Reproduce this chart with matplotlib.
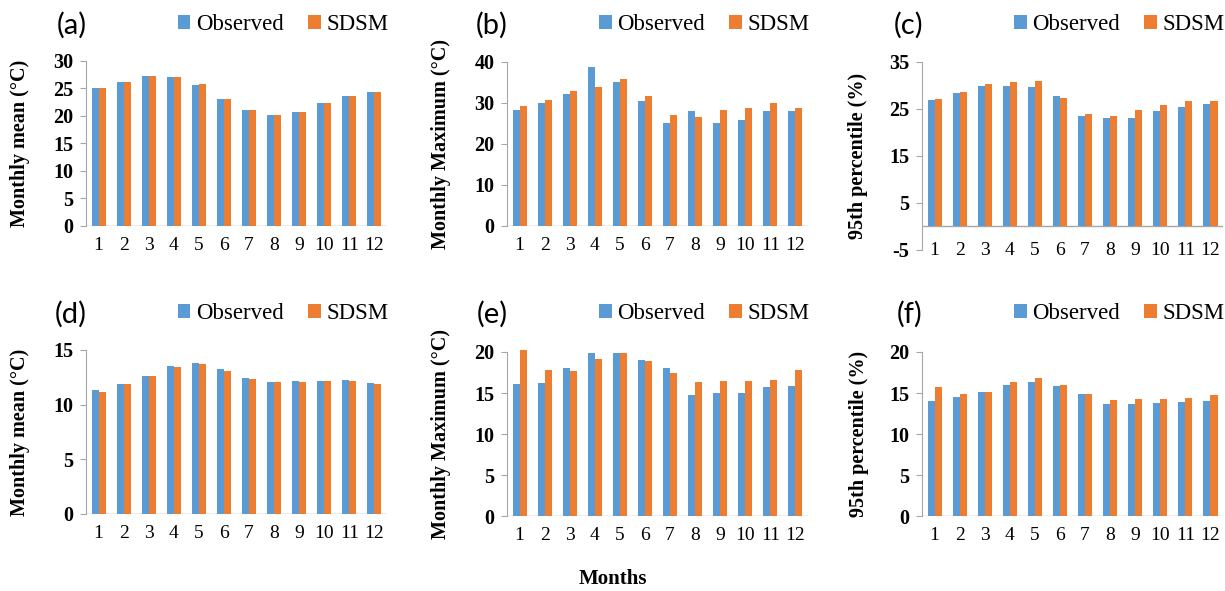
import matplotlib
matplotlib.use('Agg')
import matplotlib.pyplot as plt
import matplotlib.transforms as mtransforms
import numpy as np

months = [1, 2, 3, 4, 5, 6, 7, 8, 9, 10, 11, 12]

# (a) monthly mean, upper row
obs_a = [25.0, 26.1, 27.3, 27.0, 25.7, 23.1, 21.0, 20.1, 20.8, 22.3, 23.6, 24.3]
sdsm_a = [25.0, 26.1, 27.3, 27.1, 25.8, 23.1, 21.0, 20.1, 20.8, 22.4, 23.6, 24.3]
# (b) monthly maximum, upper row
obs_b = [28.2, 29.9, 32.1, 38.9, 35.0, 30.5, 25.2, 28.1, 25.0, 25.8, 28.0, 28.1]
sdsm_b = [29.2, 30.7, 32.9, 34.0, 35.9, 31.7, 27.0, 26.7, 28.2, 28.8, 30.0, 28.9]
# (c) 95th percentile, upper row
obs_c = [27.0, 28.4, 29.8, 29.9, 29.6, 27.7, 23.6, 23.0, 23.1, 24.6, 25.4, 26.1]
sdsm_c = [27.2, 28.6, 30.3, 30.7, 31.0, 27.4, 24.0, 23.5, 24.7, 25.8, 26.8, 26.7]
# (d) monthly mean, lower row
obs_d = [11.3, 11.9, 12.6, 13.5, 13.8, 13.25, 12.45, 12.1, 12.15, 12.15, 12.25, 12.0]
sdsm_d = [11.15, 11.85, 12.6, 13.4, 13.7, 13.1, 12.35, 12.05, 12.1, 12.15, 12.2, 11.85]
# (e) monthly maximum, lower row
obs_e = [16.1, 16.2, 18.0, 19.9, 19.9, 19.0, 18.0, 14.8, 15.0, 15.0, 15.7, 15.8]
sdsm_e = [20.3, 17.8, 17.65, 19.15, 19.85, 18.95, 17.4, 16.3, 16.5, 16.5, 16.6, 17.8]
# (f) 95th percentile, lower row
obs_f = [14.0, 14.5, 15.15, 16.0, 16.4, 15.9, 14.9, 13.6, 13.6, 13.8, 13.9, 14.0]
sdsm_f = [15.75, 14.85, 15.15, 16.3, 16.85, 16.0, 14.9, 14.1, 14.3, 14.3, 14.45, 14.8]

panels = [
    ('(a)', obs_a, sdsm_a, 'Monthly mean (°C)', (0, 30), np.arange(0, 31, 5)),
    ('(b)', obs_b, sdsm_b, 'Monthly Maximum (°C)', (0, 40), np.arange(0, 41, 10)),
    ('(c)', obs_c, sdsm_c, '95th percentile (%)', (-5, 35), np.arange(-5, 36, 10)),
    ('(d)', obs_d, sdsm_d, 'Monthly mean (°C)', (0, 15), np.arange(0, 16, 5)),
    ('(e)', obs_e, sdsm_e, 'Monthly Maximum (°C)', (0, 20), np.arange(0, 21, 5)),
    ('(f)', obs_f, sdsm_f, '95th percentile (%)', (0, 20), np.arange(0, 21, 5)),
]

# axes rectangles in figure fraction
rects = [
    [0.0702, 0.6176, 0.2457, 0.2792],
    [0.4139, 0.6176, 0.2457, 0.2775],
    [0.7527, 0.5770, 0.2457, 0.3181],
    [0.0702, 0.1303, 0.2457, 0.2775],
    [0.4139, 0.1269, 0.2457, 0.2775],
    [0.7527, 0.1269, 0.2457, 0.2775],
]
# vertical position (figure fraction) of panel tag / legend row
head_y = [0.958, 0.958, 0.958, 0.469, 0.469, 0.469]
label_pad = [17, 17, 15, 17, 17, 15]

blue = '#5B9BD5'
orange = '#ED7D31'
grey = '#A6A6A6'
serif = ['Liberation Serif', 'DejaVu Serif']

fig = plt.figure(figsize=(12.25, 5.91), dpi=100)
x = np.array(months)
w = 0.28

for i, (rect, (tag, obs, sim, ylab, ylim, yt)) in enumerate(zip(rects, panels)):
    ax = fig.add_axes(rect)
    b1 = ax.bar(x - w / 2, obs, w, color=blue, label='Observed', clip_on=False)
    b2 = ax.bar(x + w / 2, sim, w, color=orange, label='SDSM', clip_on=False)
    ax.set_xlim(0.5, 12.5)
    ax.set_ylim(*ylim)
    ax.set_yticks(yt)
    ax.set_xticks(x)
    ax.set_xticklabels([str(m) for m in months], fontfamily=serif, fontsize=14)
    ax.set_yticklabels([str(v) for v in yt], fontfamily=serif, fontsize=14.5, fontweight='bold')
    for s in ['top', 'right', 'bottom']:
        ax.spines[s].set_visible(False)
    ax.spines['left'].set_color(grey)
    ax.axhline(0, color=grey, lw=1.0, zorder=0.5)
    if ylim[0] < 0:
        # labels sit on the bottom tick level in this panel
        ax.tick_params(axis='x', length=0, pad=-6)
    else:
        ax.tick_params(axis='x', length=0, pad=8)
    ax.tick_params(axis='y', length=4, color=grey, pad=5)
    ax.set_ylabel(ylab, fontfamily=serif, fontsize=14.5, fontweight='bold',
                  labelpad=label_pad[i])
    trans = mtransforms.blended_transform_factory(ax.transAxes, fig.transFigure)
    ax.text(0.003, head_y[i], tag, transform=trans, fontsize=21, family='Lato',
            ha='right', va='center')
    ax.legend(handles=[b1, b2], loc='center right', bbox_to_anchor=(1.005, head_y[i]),
              bbox_transform=trans, ncol=2, frameon=False,
              prop={'family': serif, 'size': 16.5},
              handlelength=0.55, handleheight=0.55, handletextpad=0.25,
              columnspacing=1.05, borderaxespad=0, borderpad=0)

fig.text(0.5, 0.003, 'Months', ha='center', va='bottom', fontfamily=serif,
         fontsize=15, fontweight='bold')

fig.savefig('out.png', dpi=100)
